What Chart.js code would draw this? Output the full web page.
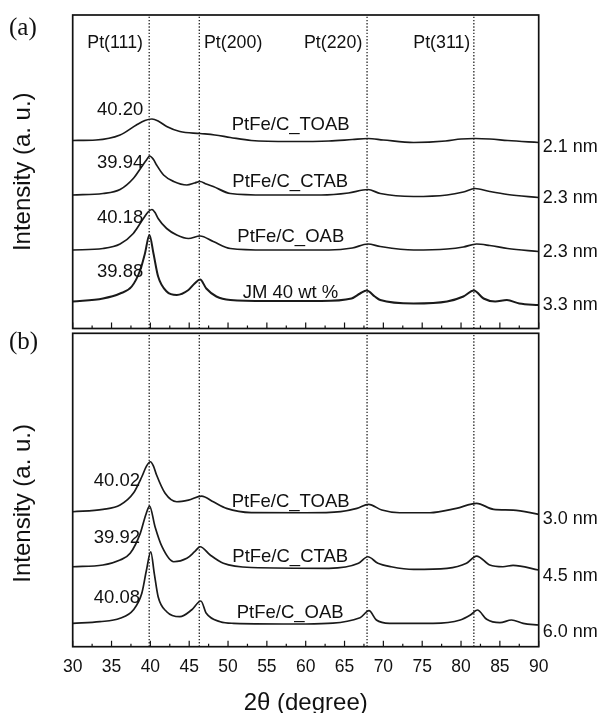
<!DOCTYPE html>
<html><head><meta charset="utf-8">
<script src="https://cdn.jsdelivr.net/npm/chart.js@4.4.1/dist/chart.umd.min.js"></script>
<style>
html,body{margin:0;padding:0;background:#fff;width:603px;height:713px;overflow:hidden}
canvas{position:absolute;left:0;top:0}
</style></head><body>
<canvas id="ca" width="603" height="713"></canvas>
<canvas id="cb" width="603" height="713"></canvas>
<script>
// ---------- data (2θ in degrees, intensity in arbitrary units) ----------
const xTickValues = [30,35,40,45,50,55,60,65,70,75,80,85,90];
const reflections = ['Pt(111)','Pt(200)','Pt(220)','Pt(311)'];
const reflectionPositions = [39.85,46.3,67.9,81.65];

const sampleNamesA = ['PtFe/C_TOAB','PtFe/C_CTAB','PtFe/C_OAB','JM 40 wt %'];
const peakLabelsA = ['40.20','39.94','40.18','39.88'];
const sizeLabelsA = ['2.1 nm','2.3 nm','2.3 nm','3.3 nm'];
const sampleNamesB = ['PtFe/C_TOAB','PtFe/C_CTAB','PtFe/C_OAB'];
const peakLabelsB = ['40.02','39.92','40.08'];
const sizeLabelsB = ['3.0 nm','4.5 nm','6.0 nm'];

const A_TOAB_x = [30,33,36.1,38.2,39.3,40.2,41.1,42.1,43.8,46.4,48.3,50.3,53,58,63,66,68,70,73.9,78,80,81.8,83.7,86,90];
const A_TOAB_y = [188,188.5,193.5,203.5,208,209.5,207,202,197,195,193.5,191,188,187,187.5,189,190,188.5,186,187.5,189.5,190,189.5,188,186];
const A_CTAB_x = [30,33.9,36.1,37.8,38.9,39.5,39.9,40.4,40.8,41.7,43,44.7,45.7,46.4,47.2,48.1,50.3,55,62,65.5,68,69.6,73.9,78.2,80.3,81.8,83.7,86,90];
const A_CTAB_y = [133.5,135,139,150,162,168.5,172.5,169,163.5,153.5,147,143.5,145.5,147,144.5,142,135,133.5,133.5,135.5,139,135,132,133.5,136.5,140,137,134,131];
const A_OAB_x = [30,33.9,36.1,37.8,39.1,39.7,40.2,40.6,41,42.1,43.4,44.9,46.4,48.1,50.3,55,63,66,68,69.6,73.9,78.2,80.3,82,83.7,86,90];
const A_OAB_y = [78.5,80,84.5,95,110,116.5,119,116,110,100,93.5,90,92.5,87,80,78.5,78.5,80.5,84.5,82,78.5,79.5,81.5,84.5,83,80,77];
const A_JM_x = [30,33.9,36.1,37.6,38.7,39.3,39.88,40.4,41,42.1,43.4,44.9,45.7,46.4,47.2,48.5,50.3,55,62,65.9,67,67.85,68.9,69.6,73.9,78.2,80.3,81.65,82.9,84.4,85.9,87.5,90];
const A_JM_y = [27,30,35,42,58.5,75,93.5,75,52,37,33.5,38.5,45,49,40,32,28.5,27.5,27.5,30,35,38,32,28.5,25,27,32,38,30,27,28.5,25,23.5];

const B_TOAB_x = [30,33.9,36.1,37.8,38.9,39.5,40,40.4,40.8,41.9,43.4,44.9,46.6,48.1,49.8,53,60,64.5,66.6,68.1,69.8,72.1,76,79.4,82,84.2,86.7,90];
const B_TOAB_y = [135,137.4,141.7,153.4,170,180.7,185,180.7,171.7,153.4,145,146.7,150.7,145,138.4,134.2,134,135.2,138.4,142.4,136.7,134,134,138.4,143.4,137.4,136.7,132.4];
const B_CTAB_x = [30,33.9,36.1,37.4,38.7,39.4,39.9,40.6,41.5,43,44.7,45.7,46.4,47.7,49.4,53,63,66.8,68,69.3,71,73.9,78.2,80.7,82,83.7,85.4,86.7,90];
const B_CTAB_y = [80,81.7,86.7,93.4,113.4,131.7,140.7,120,100,85,88.4,95,100,91.7,83.4,79.2,78.4,83.4,90,83.4,80,77.4,78.4,83.4,90.7,81.7,80,81.4,76.7];
const B_OAB_x = [30,33.5,36.1,37.8,38.9,39.5,40.05,40.5,41,42.1,43.8,45.3,46.5,47.2,49,50.7,60,67,68.15,69.1,70.8,76.4,79.9,81.2,82.1,83.3,85,86.5,88,90];
const B_OAB_y = [23.4,25,28.4,36.7,53.4,76.7,95,73.4,50,35,30,36.7,45.7,33.4,25,23.4,22.7,29,36,26.7,23.4,23.4,26.7,31.7,36.7,27.4,24,26.7,23.4,21.7];

const Y_MAX = 313.5;
// -----------------------------------------------------------------------

const SANS = '"Liberation Sans", Arial, sans-serif';
const SERIF = '"Liberation Serif", "Times New Roman", serif';

function pts(xs, ys){ return xs.map((x,i)=>({x:x, y:ys[i]})); }
function curve(xs, ys, w){
  return {data: pts(xs,ys), borderColor:'#1a1a1a', borderWidth:w||1.7, pointRadius:0,
          cubicInterpolationMode:'monotone', fill:false, order:0};
}
function refLines(){
  return reflectionPositions.map(p => ({data:[{x:p,y:0},{x:p,y:Y_MAX}], borderColor:'#222',
    borderWidth:1.3, borderDash:[1.4,1.8], pointRadius:0, fill:false, order:1}));
}

const framePlugin = {
  id:'frame',
  afterDatasetsDraw(chart){
    const {ctx, chartArea:a, scales:{x}} = chart;
    ctx.save();
    ctx.strokeStyle = '#111';
    ctx.lineWidth = 1.2;
    ctx.beginPath();
    for (let v = x.min; v <= x.max; v += 2.5){
      const px = x.getPixelForValue(v);
      const len = (Math.abs(v % 5) < 1e-6) ? 6 : 3;
      ctx.moveTo(px, a.bottom); ctx.lineTo(px, a.bottom - len);
    }
    ctx.stroke();
    ctx.lineWidth = 1.7;
    ctx.strokeRect(a.left, a.top, a.right - a.left, a.bottom - a.top);
    ctx.restore();
  }
};

function textPlugin(items){
  return { id:'txt', afterDraw(chart){
    const ctx = chart.ctx; ctx.save();
    ctx.fillStyle = '#111'; ctx.textBaseline = 'middle';
    for (const it of items){
      ctx.font = it.font; ctx.textAlign = it.align || 'left';
      ctx.fillText(it.text, it.x, it.y);
    }
    ctx.restore();
  }};
}

const LBL = '18.5px ' + SANS;
const itemsA = [
  {text:'(a)', x:9, y:28, font:'25px ' + SERIF},
];
[87.3,204,304,413.3].forEach((x,i)=>itemsA.push({text:reflections[i], x:x, y:43.5, font:'17.8px ' + SANS}));
[[231.7,125],[232.3,181.7],[237.3,237.3],[242.7,293.3]].forEach((p,i)=>itemsA.push({text:sampleNamesA[i], x:p[0], y:p[1], font:LBL}));
[110,163.3,218.3,271.7].forEach((y,i)=>itemsA.push({text:peakLabelsA[i], x:143.3, y:y, font:LBL, align:'right'}));
[146.7,198.3,251.7,305].forEach((y,i)=>itemsA.push({text:sizeLabelsA[i], x:542.7, y:y, font:'18px ' + SANS}));

const itemsB = [
  {text:'(b)', x:9, y:342, font:'25px ' + SERIF},
];
[[231.7,501.7],[232.3,557.3],[236.7,613.3]].forEach((p,i)=>itemsB.push({text:sampleNamesB[i], x:p[0], y:p[1], font:LBL}));
[481,538.3,597.5].forEach((y,i)=>itemsB.push({text:peakLabelsB[i], x:140, y:y, font:LBL, align:'right'}));
[519.3,576,631.7].forEach((y,i)=>itemsB.push({text:sizeLabelsB[i], x:542.7, y:y, font:'18px ' + SANS}));

function yAxis(titleText){
  return {
    type:'linear', min:0, max:Y_MAX, position:'left',
    ticks:{display:false}, grid:{display:false, drawTicks:false}, border:{display:false},
    title:{display:true, text:titleText, color:'#111', font:{family:SANS, size:24, lineHeight:1.2}, padding:{top:8.6, bottom:0}},
    afterFit(s){ s.width = 72.7; }
  };
}

const common = {
  responsive:false, animation:false, devicePixelRatio:1,
  plugins:{legend:{display:false}, tooltip:{enabled:false}},
  elements:{line:{tension:0}}
};

new Chart(document.getElementById('ca'), {
  type:'line',
  data:{datasets:[
    curve(A_TOAB_x,A_TOAB_y), curve(A_CTAB_x,A_CTAB_y), curve(A_OAB_x,A_OAB_y), curve(A_JM_x,A_JM_y,2),
    ...refLines()
  ]},
  options:Object.assign({}, common, {
    layout:{padding:{left:0, top:15, right:64.3, bottom:384.5}},
    scales:{
      x:{type:'linear', min:30, max:90, display:false},
      y:yAxis('Intensity (a. u.)')
    }
  }),
  plugins:[framePlugin, textPlugin(itemsA)]
});

new Chart(document.getElementById('cb'), {
  type:'line',
  data:{datasets:[
    curve(B_TOAB_x,B_TOAB_y), curve(B_CTAB_x,B_CTAB_y), curve(B_OAB_x,B_OAB_y),
    ...refLines()
  ]},
  options:Object.assign({}, common, {
    layout:{padding:{left:0, top:333.3, right:64.3, bottom:0}},
    scales:{
      x:{type:'linear', min:30, max:90, position:'bottom',
        afterBuildTicks(s){ s.ticks = xTickValues.map(v=>({value:v})); },
        ticks:{color:'#111', font:{family:SANS, size:17.5}, padding:10, maxRotation:0, autoSkip:false},
        grid:{display:false, drawTicks:false}, border:{display:false},
        title:{display:true, text:'2\u03B8 (degree)', color:'#111', font:{family:SANS, size:24, lineHeight:1}, padding:{top:0, bottom:-2}},
        afterFit(s){ s.height = 66.3; }
      },
      y:yAxis('Intensity (a. u.)    ')
    }
  }),
  plugins:[framePlugin, textPlugin(itemsB)]
});
</script>
</body></html>
